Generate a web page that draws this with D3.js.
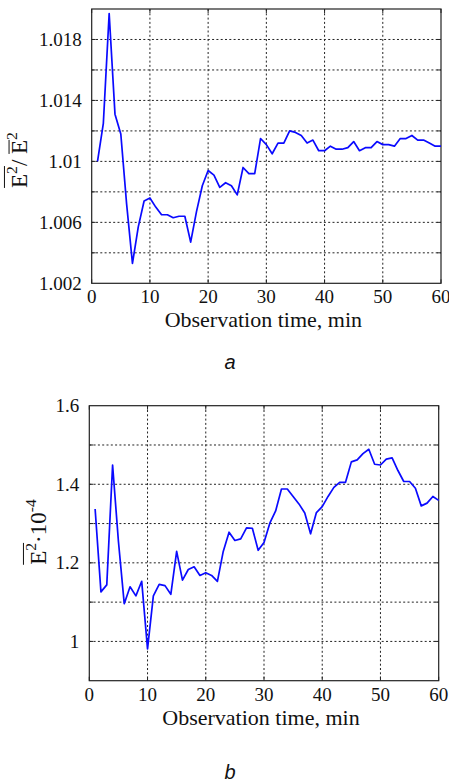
<!DOCTYPE html>
<html lang="en">
<head>
<meta charset="UTF-8">
<title>Observation time charts</title>
<script src="https://d3js.org/d3.v7.min.js"></script>
<style>
    body { margin: 0; background: #fff; }
    svg { display: block; }
    .tick-label { font-family: "Liberation Serif", "Times New Roman", "DejaVu Serif", serif; font-size: 19px; fill: #111; }
    .axis-title { font-family: "Liberation Serif", "Times New Roman", "DejaVu Serif", serif; font-size: 22px; fill: #111; white-space: pre; }
    .panel-letter { font-family: "Liberation Sans", Arial, sans-serif; font-style: italic; font-size: 20px; fill: #111; }
    .grid line { stroke: #222; stroke-width: 1; stroke-dasharray: 2,2.3; }
    .series { fill: none; stroke: #0a0aff; stroke-width: 1.7; stroke-linejoin: round; }
</style>
</head>
<body>
<svg id="canvas" width="449" height="782"></svg>
<script>
    // observation minutes
    let minutes = [1,2,3,4,5,6,7,8,9,10,11,12,13,14,15,16,17,18,19,20,
                   21,22,23,24,25,26,27,28,29,30,31,32,33,34,35,36,37,38,39,40,
                   41,42,43,44,45,46,47,48,49,50,51,52,53,54,55,56,57,58,59,60];
    // panel a: ratio of mean square to squared mean
    let ratioA = [1.0100,1.0125,1.0197,1.0131,1.0118,1.0072,1.0033,1.0057,1.0074,1.0076,
                  1.0070,1.0065,1.0065,1.0063,1.0064,1.0064,1.0047,1.0067,1.0084,1.0094,
                  1.0091,1.0083,1.0086,1.0084,1.0078,1.0096,1.0092,1.0092,1.0115,1.0111,
                  1.0105,1.0112,1.0112,1.0120,1.0119,1.0117,1.0112,1.0114,1.0107,1.0107,
                  1.0110,1.0108,1.0108,1.0109,1.0113,1.0107,1.0109,1.0109,1.0113,1.0111,
                  1.0111,1.0110,1.0115,1.0115,1.0117,1.0114,1.0114,1.0112,1.0110,1.0110];
    // panel b: mean square, x 10^-4
    let meanSqB = [1.337,1.126,1.144,1.449,1.255,1.096,1.139,1.116,1.153,0.981,
                   1.116,1.145,1.142,1.120,1.229,1.156,1.183,1.190,1.168,1.175,
                   1.168,1.153,1.229,1.278,1.257,1.261,1.289,1.288,1.232,1.252,
                   1.301,1.332,1.388,1.388,1.369,1.350,1.327,1.274,1.328,1.343,
                   1.369,1.392,1.405,1.405,1.457,1.462,1.478,1.489,1.451,1.449,
                   1.464,1.467,1.435,1.407,1.407,1.390,1.345,1.352,1.369,1.359];

    let xTicks = [0,10,20,30,40,50,60];
    let yTicksA = [1.002,1.006,1.010,1.014,1.018];
    let yGridA = [1.004,1.006,1.008,1.010,1.012,1.014,1.016,1.018];
    let yTicksB = [1.0,1.2,1.4,1.6];
    let yGridB = [1.0,1.1,1.2,1.3,1.4,1.5];

    let svg = d3.select('#canvas');

    function drawPanel(opt){
        let g = svg.append('g');
        let x = d3.scaleLinear().domain([0,60]).range([opt.left, opt.right]);
        let y = d3.scaleLinear().domain(opt.yDomain).range([opt.bottom, opt.top]);

        // grid
        let grid = g.append('g').attr('class','grid');
        grid.selectAll('line.gx')
            .data(xTicks.slice(1,-1))
            .enter().append('line')
            .attr('x1',d=>x(d)).attr('x2',d=>x(d))
            .attr('y1',opt.top).attr('y2',opt.bottom);
        grid.selectAll('line.gy')
            .data(opt.yGrid)
            .enter().append('line')
            .attr('y1',d=>y(d)).attr('y2',d=>y(d))
            .attr('x1',opt.left).attr('x2',opt.right);

        // little inward ticks
        let tk = g.append('g').attr('stroke','#222').attr('stroke-width',1);
        xTicks.forEach(d=>{
            tk.append('line').attr('x1',x(d)).attr('x2',x(d)).attr('y1',opt.bottom).attr('y2',opt.bottom-4);
            tk.append('line').attr('x1',x(d)).attr('x2',x(d)).attr('y1',opt.top).attr('y2',opt.top+4);
        });
        opt.yGrid.forEach(d=>{
            tk.append('line').attr('y1',y(d)).attr('y2',y(d)).attr('x1',opt.left).attr('x2',opt.left+4);
            tk.append('line').attr('y1',y(d)).attr('y2',y(d)).attr('x1',opt.right).attr('x2',opt.right-4);
        });

        // box
        g.append('rect')
            .attr('x',opt.left).attr('y',opt.top)
            .attr('width',opt.right-opt.left).attr('height',opt.bottom-opt.top)
            .attr('fill','none').attr('stroke','#222').attr('stroke-width',1.2);

        // series
        let line = d3.line().x((d,i)=>x(minutes[i])).y(d=>y(d));
        g.append('path').datum(opt.values).attr('class','series').attr('d',line);

        // tick labels
        g.selectAll('text.xl')
            .data(xTicks)
            .enter().append('text')
            .attr('class','tick-label')
            .attr('x',d=>x(d)).attr('y',opt.bottom+20)
            .attr('text-anchor','middle')
            .text(d=>d);
        g.selectAll('text.yl')
            .data(opt.yTicks)
            .enter().append('text')
            .attr('class','tick-label')
            .attr('x',opt.left-10).attr('y',d=>y(d))
            .attr('dy','0.35em')
            .attr('text-anchor','end')
            .text(d=>d3.format(opt.fmt)(d));

        g.append('text')
            .attr('class','axis-title')
            .attr('x',(opt.left+opt.right)/2 - 3)
            .attr('y',opt.bottom+44)
            .attr('text-anchor','middle')
            .text('Observation time, min');

        g.append('text')
            .attr('class','panel-letter')
            .attr('x',230).attr('y',opt.letterY)
            .attr('text-anchor','middle')
            .text(opt.letter);
        return g;
    }

    // rotated y title made of pieces: [text, superscript?, overline?]
    function yTitle(cx, cy, size, pieces){
        let g = svg.append('g').attr('transform','translate('+cx+','+cy+') rotate(-90)');
        let pos = 0;
        let spans = [];
        pieces.forEach(p=>{
            let fs = p.sup ? size*0.68 : size;
            let t = g.append('text')
                .attr('class','axis-title')
                .style('font-size',fs+'px')
                .attr('x',pos)
                .attr('y',p.sup ? -size*0.42 : 0)
                .text(p.t);
            let w = t.node().getComputedTextLength();
            spans.push({x:pos, w:w, p:p});
            pos += w;
        });
        // centre the whole title
        g.selectAll('text').attr('x',function(d,i){ return spans[i].x - pos/2; });
        // overlines
        let bars = {};
        spans.forEach(s=>{
            if(s.p.bar===undefined) return;
            let b = bars[s.p.bar] || (bars[s.p.bar]={x0:s.x, x1:s.x+s.w, h:s.p.barH});
            b.x1 = s.x+s.w;
        });
        Object.values(bars).forEach(b=>{
            g.append('line')
                .attr('x1',b.x0-pos/2).attr('x2',b.x1-pos/2)
                .attr('y1',-size*b.h).attr('y2',-size*b.h)
                .attr('stroke','#111').attr('stroke-width',1);
        });
    }

    drawPanel({left:91.7,right:441,top:9,bottom:283.3,yDomain:[1.002,1.020],
               values:ratioA,yTicks:yTicksA,yGrid:yGridA,fmt:'.4~f',letter:'a',letterY:369});
    drawPanel({left:89.3,right:438.7,top:405.7,bottom:680.7,yDomain:[0.9,1.6],
               values:meanSqB,yTicks:yTicksB,yGrid:yGridB,fmt:'.1~f',letter:'b',letterY:779});

    yTitle(27, 160, 23, [
        {t:'E', bar:0, barH:0.98},
        {t:'2', sup:true, bar:0, barH:0.98},
        {t:'/ '},
        {t:'E', bar:1, barH:0.78},
        {t:'2', sup:true}
    ]);
    yTitle(46, 532, 23, [
        {t:'E', bar:0, barH:0.98},
        {t:'2', sup:true, bar:0, barH:0.98},
        {t:'\u00b710'},
        {t:'-4', sup:true}
    ]);
</script>
</body>
</html>
